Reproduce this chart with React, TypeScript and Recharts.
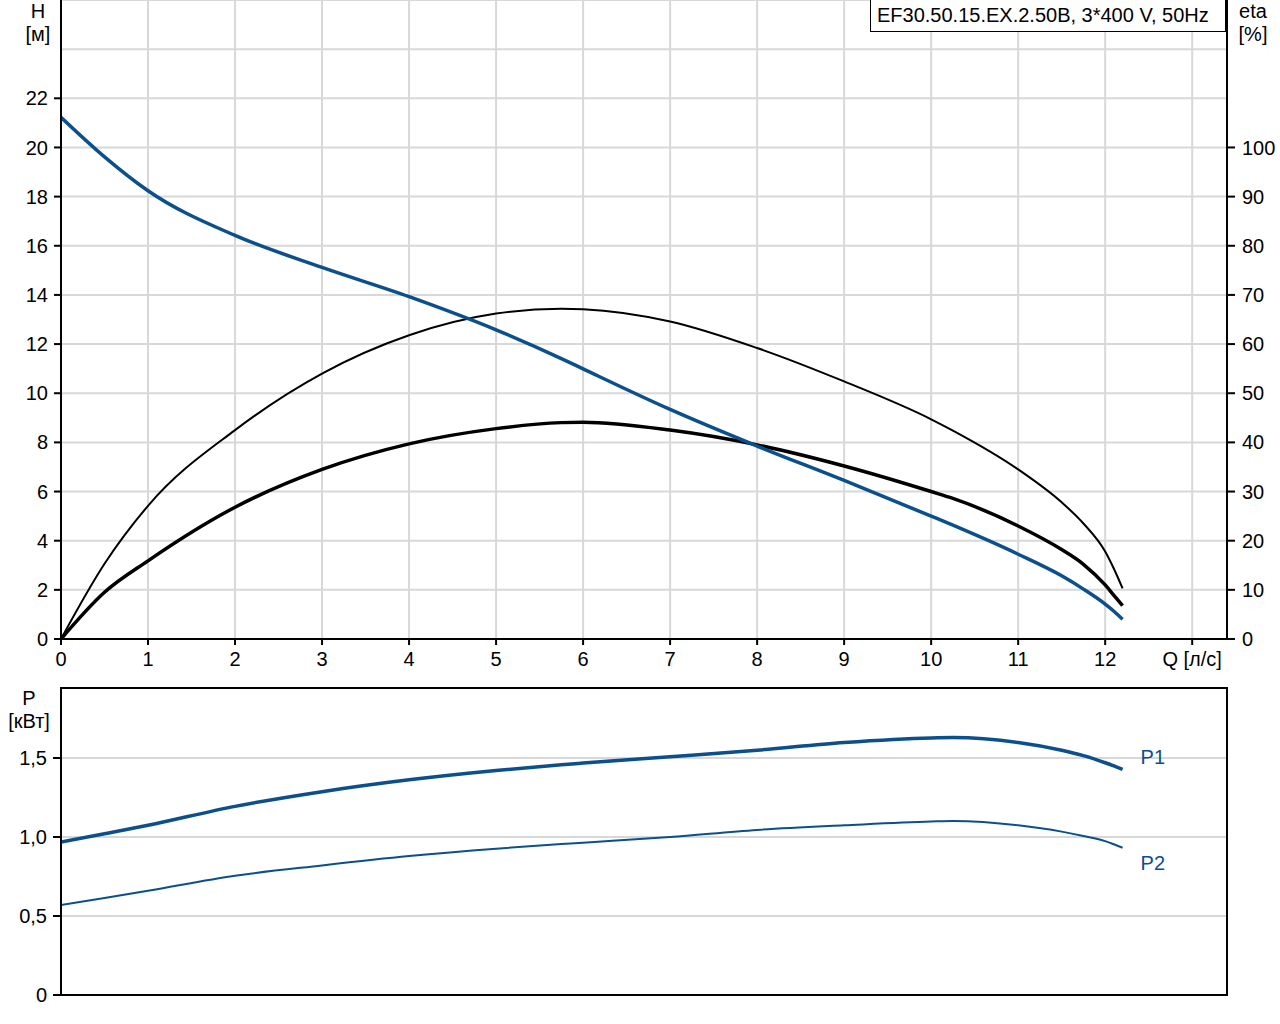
import React from "react";
import {
  LineChart,
  Line,
  XAxis,
  YAxis,
  CartesianGrid,
  ReferenceLine,
  ReferenceArea,
} from "recharts";

// flow points, l/s
const flow = [0, 0.5, 1, 2, 3, 4, 5, 5.75, 6, 7, 8, 9, 10, 10.25, 11, 11.5, 11.75, 12, 12.1, 12.2];
// head H [m]
const head = [21.23, 19.62, 18.24, 16.42, 15.12, 13.93, 12.58, 11.41, 10.99, 9.34, 7.85, 6.45, 5.0, 4.63, 3.45, 2.57, 2.03, 1.42, 1.13, 0.8];
// eta [%], thin curve
const etaPump = [0, 15.3, 27.1, 42.5, 54, 61.8, 66.2, 67.2, 67.1, 64.6, 59.2, 52.4, 44.7, 42.4, 34.5, 27.8, 23.5, 17.8, 14.3, 10.3];
// eta [%], thick curve
const etaTotal = [0, 9.5, 15.9, 26.8, 34.5, 39.7, 42.8, 44.02, 44.1, 42.5, 39.5, 35.2, 30, 28.6, 23, 18.2, 15.2, 11.0, 8.9, 6.8];
// power [kW]
const powerP1 = [0.968, 1.02, 1.074, 1.194, 1.287, 1.362, 1.421, 1.457, 1.468, 1.508, 1.549, 1.598, 1.627, 1.629, 1.598, 1.549, 1.515, 1.47, 1.45, 1.428];
const powerP2 = [0.57, 0.614, 0.66, 0.755, 0.82, 0.879, 0.926, 0.955, 0.964, 1.0, 1.045, 1.074, 1.098, 1.101, 1.074, 1.034, 1.006, 0.974, 0.954, 0.932];

const qTicks = [0, 1, 2, 3, 4, 5, 6, 7, 8, 9, 10, 11, 12, 13];
const hTicks = [0, 2, 4, 6, 8, 10, 12, 14, 16, 18, 20, 22];
const etaTicks = [0, 10, 20, 30, 40, 50, 60, 70, 80, 90, 100];
const pTicks = [0, 0.5, 1, 1.5];

const title = "EF30.50.15.EX.2.50B, 3*400 V, 50Hz";

const BLUE = "#0b4f8c";
const GRID = "#d8d8d8";
const FONT = "'Liberation Sans', Arial, sans-serif";
const FS = 20;

const topData = flow.map((q, i) => ({ q, h: head[i], eta: etaPump[i], etaTot: etaTotal[i] }));
const bottomData = flow.map((q, i) => ({ q, p1: powerP1[i], p2: powerP2[i] }));

const tickStyle = { fill: "#000", fontSize: FS, fontFamily: FONT };
const axisLine = { stroke: "#000", strokeWidth: 2 };

const fmtP = (v: number) => (v === 0 ? "0" : v.toFixed(1).replace(".", ","));

const EndLabel = (text: string, dy: number) => (props: any) => {
  if (props.index !== flow.length - 1) return null;
  return (
    <text x={props.x + 18} y={props.y + dy} fill={BLUE} fontSize={FS} fontFamily={FONT} dominantBaseline="central">
      {text}
    </text>
  );
};

const Caption = ({ x, y, children }: { x: number; y: number; children: React.ReactNode }) => (
  <div
    style={{
      position: "absolute",
      left: x,
      top: y,
      transform: "translate(-50%, -50%)",
      fontSize: FS,
      lineHeight: 1,
      fontFamily: FONT,
      color: "#000",
      whiteSpace: "nowrap",
    }}
  >
    {children}
  </div>
);

export default function App() {
  return (
    <div style={{ position: "absolute", left: 0, top: 0, width: 1280, height: 1024, background: "#fff" }}>
      <div style={{ position: "absolute", left: 0, top: 0 }}>
        <LineChart width={1280} height={680} data={topData} margin={{ top: 0, right: 0, bottom: 0, left: 0 }}>
          <CartesianGrid yAxisId="h" stroke={GRID} strokeWidth={2} />
          <XAxis
            dataKey="q"
            type="number"
            domain={[0, 13.4]}
            ticks={qTicks}
            interval={0}
            allowDataOverflow
            height={41}
            tickSize={6}
            tickMargin={7}
            axisLine={axisLine}
            tickLine={axisLine}
            tick={tickStyle}
            tickFormatter={(v: number) => (v === 13 ? "Q [л/с]" : String(v))}
          />
          <YAxis
            yAxisId="h"
            type="number"
            domain={[0, 26]}
            ticks={hTicks}
            interval={0}
            width={61}
            tickSize={7}
            tickMargin={6}
            axisLine={axisLine}
            tickLine={axisLine}
            tick={tickStyle}
          />
          <YAxis
            yAxisId="eta"
            orientation="right"
            type="number"
            domain={[0, 130]}
            ticks={etaTicks}
            interval={0}
            width={53}
            tickSize={8}
            tickMargin={7}
            axisLine={axisLine}
            tickLine={axisLine}
            tick={{ ...tickStyle, textAnchor: "start" }}
          />
          <ReferenceLine yAxisId="h" y={24} stroke={GRID} strokeWidth={2} />
          <Line yAxisId="eta" type="monotoneX" dataKey="eta" stroke="#000" strokeWidth={2} dot={false} isAnimationActive={false} />
          <Line yAxisId="eta" type="monotoneX" dataKey="etaTot" stroke="#000" strokeWidth={3.5} dot={false} isAnimationActive={false} />
          <Line yAxisId="h" type="monotoneX" dataKey="h" stroke={BLUE} strokeWidth={3.5} dot={false} isAnimationActive={false} />
        </LineChart>
      </div>

      <div style={{ position: "absolute", left: 0, top: 680 }}>
        <LineChart width={1280} height={344} data={bottomData} margin={{ top: 8, right: 53, bottom: 29, left: 0 }}>
          <CartesianGrid stroke={GRID} strokeWidth={2} />
          <XAxis
            dataKey="q"
            type="number"
            domain={[0, 13.4]}
            ticks={qTicks}
            interval={0}
            allowDataOverflow
            height={0}
            tick={false}
            tickLine={false}
            axisLine={axisLine}
          />
          <YAxis
            type="number"
            domain={[0, 1.943]}
            ticks={pTicks}
            interval={0}
            allowDataOverflow
            width={61}
            tickSize={8}
            tickMargin={6}
            axisLine={axisLine}
            tickLine={axisLine}
            tick={tickStyle}
            tickFormatter={fmtP}
          />
          <ReferenceArea x1={0} x2={13.4} y1={0} y2={1.943} fill="none" stroke="#000" strokeWidth={2} ifOverflow="visible" />
          <Line type="monotoneX" dataKey="p1" stroke={BLUE} strokeWidth={3.5} dot={false} isAnimationActive={false} label={EndLabel("P1", -12)} />
          <Line type="monotoneX" dataKey="p2" stroke={BLUE} strokeWidth={2} dot={false} isAnimationActive={false} label={EndLabel("P2", 15)} />
        </LineChart>
      </div>

      <div
        style={{
          position: "absolute",
          left: 870,
          top: 0,
          width: 356,
          height: 32,
          border: "1px solid #000",
          borderTop: "none",
          background: "#fff",
          fontFamily: FONT,
          fontSize: FS,
          lineHeight: "31px",
          paddingLeft: 6,
          boxSizing: "border-box",
          whiteSpace: "nowrap",
        }}
      >
        {title}
      </div>

      <Caption x={38} y={11}>H</Caption>
      <Caption x={38} y={34}>[м]</Caption>
      <Caption x={1253} y={11}>eta</Caption>
      <Caption x={1253} y={34}>[%]</Caption>
      <Caption x={29} y={698}>P</Caption>
      <Caption x={29} y={721}>[кВт]</Caption>
    </div>
  );
}
